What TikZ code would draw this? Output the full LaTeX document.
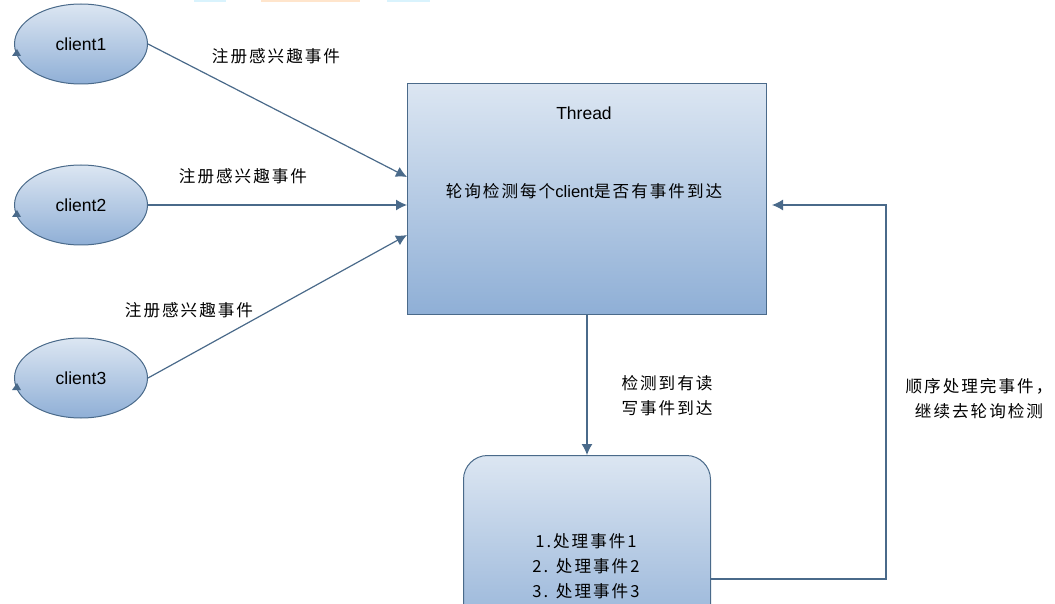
\documentclass[tikz,border=0pt]{standalone}
\usepackage{fontspec}
\setmainfont{Liberation Sans}
\newfontfamily\cjk[LetterSpace=12]{Noto Sans CJK SC}
\usetikzlibrary{shapes.geometric,arrows.meta}
\definecolor{linecol}{HTML}{4A6A8A}
\definecolor{topcol}{HTML}{DCE6F2}
\definecolor{botcol}{HTML}{8FAFD6}

\begin{document}
\begin{tikzpicture}[
   x=1pt,y=-1pt,
   every node/.style={font=\fontsize{16.6}{25}\selectfont\cjk,inner sep=0pt},
   latin/.style={font=\fontsize{17.5}{19}\selectfont\rmfamily},
   client/.style={draw=linecol,ellipse,top color=topcol,bottom color=botcol,
                  minimum width=133pt,minimum height=80pt,line width=1pt,latin},
   block/.style={draw=linecol,top color=topcol,bottom color=botcol,line width=1pt,anchor=north west},
   link/.style={draw=linecol,line width=1.2pt,-{Latex[length=11pt,width=11pt]}},
   tick/.style={fill=linecol,draw=none},
   note/.style={align=center}]

\useasboundingbox (0,0) rectangle (1055,604);
\clip (0,0) rectangle (1055,604);

\fill[cyan!15] (194,0) rectangle (226,2);
\fill[orange!20] (261,0) rectangle (360,2);
\fill[cyan!15] (387,0) rectangle (430,2);

\node[client] (client1) at (81,44) {client1};
\node[client] (client2) at (81,205) {client2};
\node[client] (client3) at (81,378) {client3};

\node[block,minimum width=359pt,minimum height=231pt] (thread) at (407,83) {};
\node[block,rounded corners=24pt,minimum width=247pt,minimum height=195pt] (work) at (463,455) {};

\node[latin] (title) at (584,113) {Thread};
\node (poll) at (584,191) {轮询检测每个{\rmfamily client}是否有事件到达};
\node[note] (steps) at (586,566) {1.处理事件1\\2. 处理事件2\\3. 处理事件3};

\coordinate (in1) at (407,177);
\coordinate (in2) at (407,205);
\coordinate (in3) at (407,235);
\coordinate (back) at (772,205);
\coordinate (out) at (710,579);
\coordinate (turn1) at (886,579);
\coordinate (turn2) at (886,205);

\draw[link] (client1.east) -- (in1);
\draw[link] (client2.east) -- (in2);
\draw[link] (client3.east) -- (in3);
\draw[link] (thread.south -| work.north) -- (work.north);
\draw[link] (out) -- (turn1) -- (turn2) -- (back);

\foreach \n in {1,2,3} {
   \fill[tick] (client\n.west) ++(3,5) -- ++(-5,7) -- ++(9,0) -- cycle;
}

\node (reg1) at (276,56) {注册感兴趣事件};
\node (reg2) at (243,176) {注册感兴趣事件};
\node (reg3) at (189,310) {注册感兴趣事件};
\node[note] (found) at (667,396) {检测到有读\\写事件到达};
\node[note] (done) at (979,399) {顺序处理完事件，\\继续去轮询检测};

\end{tikzpicture}
\end{document}
